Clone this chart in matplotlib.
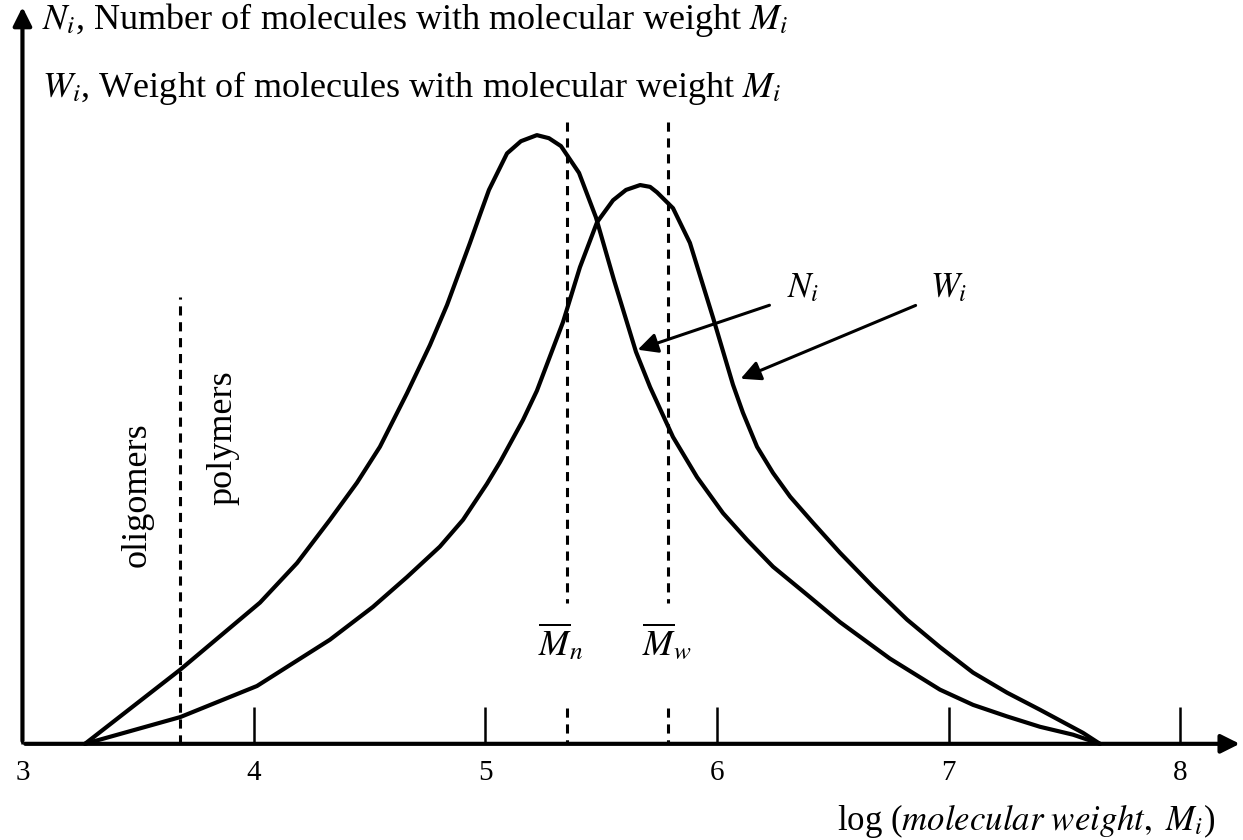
import matplotlib.pyplot as plt

plt.rcParams['font.family'] = ['Liberation Serif', 'DejaVu Serif']
plt.rcParams['mathtext.fontset'] = 'stix'

# log10(M) and relative heights
n_x = [3.270, 3.682, 4.026, 4.186, 4.328, 4.445, 4.544, 4.661, 4.760, 4.834, 4.933,
       4.976, 5.015, 5.093, 5.153, 5.222, 5.274, 5.326, 5.404, 5.477, 5.555, 5.650,
       5.711, 5.810, 5.914, 6.026, 6.130, 6.242, 6.389, 6.531, 6.747, 6.963, 7.106,
       7.253, 7.395, 7.538, 7.654]
n_y = [0.0, 0.122, 0.232, 0.297, 0.368, 0.429, 0.488, 0.576, 0.655, 0.721, 0.823,
       0.869, 0.910, 0.970, 0.990, 1.0, 0.995, 0.982, 0.938, 0.865, 0.762, 0.644,
       0.586, 0.504, 0.438, 0.379, 0.335, 0.291, 0.245, 0.200, 0.140, 0.089, 0.064,
       0.045, 0.028, 0.015, 0.0]

w_x = [3.270, 3.682, 4.013, 4.328, 4.514, 4.661, 4.803, 4.903, 5.006, 5.063, 5.162,
       5.222, 5.335, 5.408, 5.482, 5.551, 5.607, 5.668, 5.711, 5.741, 5.810, 5.883,
       5.983, 6.069, 6.112, 6.173, 6.242, 6.316, 6.415, 6.531, 6.674, 6.821, 6.963,
       7.106, 7.253, 7.395, 7.581, 7.654]
w_y = [0.0, 0.044, 0.095, 0.171, 0.225, 0.274, 0.324, 0.368, 0.427, 0.463, 0.532,
       0.580, 0.693, 0.783, 0.857, 0.893, 0.910, 0.918, 0.915, 0.906, 0.880, 0.823,
       0.700, 0.590, 0.544, 0.488, 0.445, 0.406, 0.363, 0.314, 0.258, 0.204, 0.159,
       0.117, 0.084, 0.056, 0.018, 0.0]

mn = 5.35          # number-average
mw = 5.79          # weight-average
oligo_cut = 3.68   # oligomers / polymers boundary
xticks = [3, 4, 5, 6, 7, 8]

fig = plt.figure(figsize=(12.43, 8.4), dpi=100)
ax = fig.add_axes([0, 0, 1, 1])
ax.set_xlim(2.903, 8.272)
ax.set_ylim(-0.158, 1.222)
for s in ax.spines.values():
    s.set_visible(False)
ax.spines['bottom'].set_position(('data', 0))

ax.set_xticks(xticks)
ax.set_xticklabels([str(t) for t in xticks])
ax.set_yticks([])
ax.tick_params(axis='x', direction='in', length=27, width=1.8, pad=12,
               labelsize=21, color='black')

# axes with arrow heads
ax.annotate('', xy=(8.27, 0), xytext=(3, 0),
            arrowprops=dict(arrowstyle='-|>', lw=3, color='black', mutation_scale=28))
ax.annotate('', xy=(3, 1.215), xytext=(3, 0),
            arrowprops=dict(arrowstyle='-|>', lw=3, color='black', mutation_scale=28))

ax.plot(n_x, n_y, color='black', lw=3, solid_joinstyle='round', solid_capstyle='round')
ax.plot(w_x, w_y, color='black', lw=3, solid_joinstyle='round', solid_capstyle='round')

dash = dict(color='black', lw=2.2, linestyle=(0, (3, 2.2)))
ax.plot([oligo_cut, oligo_cut], [0, 0.734], **dash)
for m in (mn, mw):
    ax.plot([m, m], [1.021, 0.232], **dash)
    ax.plot([m, m], [0.059, 0], **dash)

ax.text(5.326, 0.166, r'$\overline{M}_n$', fontsize=26, ha='center', va='center')
ax.text(5.784, 0.166, r'$\overline{M}_w$', fontsize=26, ha='center', va='center')

ax.text(3.496, 0.41, 'oligomers', rotation=90, fontsize=26, ha='center', va='center')
ax.text(3.867, 0.503, 'polymers', rotation=90, fontsize=26, ha='center', va='center')

# labelling arrows
ax.annotate('', xy=(5.646, 0.646), xytext=(6.238, 0.722),
            arrowprops=dict(arrowstyle='-|>', lw=2.2, color='black', mutation_scale=30))
ax.annotate('', xy=(6.091, 0.598), xytext=(6.869, 0.722),
            arrowprops=dict(arrowstyle='-|>', lw=2.2, color='black', mutation_scale=30))
ax.text(6.37, 0.748, r'$N_i$', fontsize=25, ha='center', va='center')
ax.text(7.0, 0.748, r'$W_i$', fontsize=25, ha='center', va='center')

ax.text(3.085, 1.189, r'$N_i$, Number of molecules with molecular weight $M_i$',
        fontsize=26, ha='left', va='center')
ax.text(3.085, 1.077, r'$W_i$, Weight of molecules with molecular weight $M_i$',
        fontsize=26, ha='left', va='center')

ax.text(8.15, -0.127, r'log ($\mathit{molecular\ weight,\ M_i}$)', fontsize=25,
        ha='right', va='center')

fig.savefig('out.png', dpi=100, facecolor='white')
